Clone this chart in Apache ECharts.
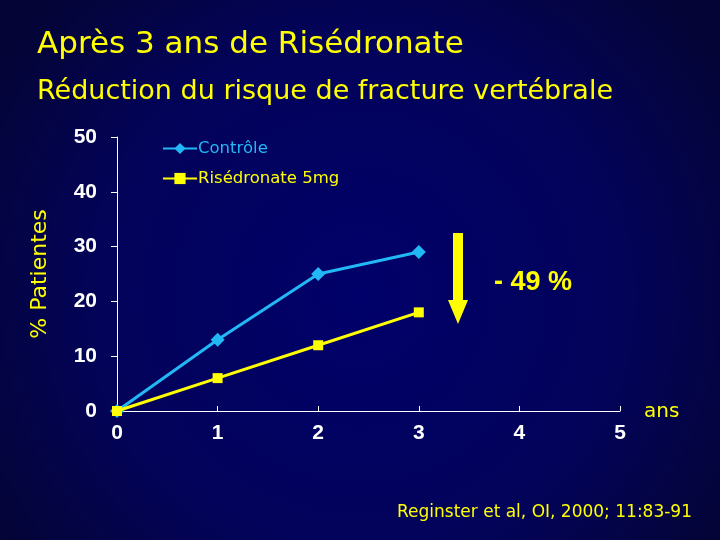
<!DOCTYPE html>
<html><head><meta charset="utf-8">
<script src="https://cdn.jsdelivr.net/npm/echarts@6/dist/echarts.min.js"></script>
<style>html,body{margin:0;padding:0;background:#000060}#c{width:720px;height:540px}</style>
</head><body><div id="c"></div>
<script>
const years = [0, 1, 2, 3];
const controle = [0, 13, 25, 29];
const risedronate = [0, 6, 12, 18];
const xTicks = [0, 1, 2, 3, 4, 5];
const yTicks = [0, 10, 20, 30, 40, 50];

const chart = echarts.init(document.getElementById('c'));
const font = '"DejaVu Sans", Verdana, sans-serif';
const numFont = '"Liberation Sans", Arial, sans-serif';
chart.setOption({
  backgroundColor: {
    type: 'radial', x: 0.5, y: 0.55, r: 0.8,
    colorStops: [{offset: 0, color: '#00006a'}, {offset: 0.6, color: '#03035a'}, {offset: 1, color: '#040436'}]
  },
  animation: false,
  grid: {left: 117, right: 100, top: 137, bottom: 129},
  title: [
    {text: 'Après 3 ans de Risédronate', left: 32, top: 24, textStyle: {color: '#ffff00', fontSize: 31, fontWeight: 'normal', fontFamily: font}},
    {text: 'Réduction du risque de fracture vertébrale', left: 32, top: 73, textStyle: {color: '#ffff00', fontSize: 27, fontWeight: 'normal', fontFamily: font}}
  ],
  legend: {
    left: 157, top: 135, orient: 'vertical', itemGap: 13, itemWidth: 34, itemHeight: 14,
    data: [
      {name: 'Contrôle', textStyle: {color: '#22b8f5'}},
      {name: 'Risédronate 5mg', textStyle: {color: '#ffff00'}}
    ],
    textStyle: {fontSize: 16.5, fontFamily: font, padding: [0, 0, 0, -4]}
  },
  xAxis: {
    type: 'value', min: 0, max: 5, interval: 1,
    axisLine: {show: true, lineStyle: {color: '#ffffff', width: 1}},
    axisTick: {show: true, inside: true, length: 5, lineStyle: {color: '#ffffff'}},
    splitLine: {show: false},
    axisLabel: {color: '#ffffff', fontSize: 21, fontWeight: 'bold', fontFamily: numFont, margin: 12,
      formatter: v => xTicks.includes(v) ? String(v) : ''}
  },
  yAxis: {
    type: 'value', min: 0, max: 50, interval: 10,
    name: '% Patientes', nameLocation: 'middle', nameGap: 66, nameRotate: 90,
    nameTextStyle: {color: '#ffff00', fontSize: 22, fontFamily: font},
    axisLine: {show: true, lineStyle: {color: '#ffffff', width: 1}},
    axisTick: {show: true, inside: false, length: 6, lineStyle: {color: '#ffffff'}},
    splitLine: {show: false},
    axisLabel: {color: '#ffffff', fontSize: 21, fontWeight: 'bold', fontFamily: numFont, margin: 20,
      formatter: v => yTicks.includes(v) ? String(v) : ''}
  },
  series: [
    {name: 'Contrôle', type: 'line', data: years.map((x, i) => [x, controle[i]]),
      symbol: 'diamond', symbolSize: 14, color: '#22b8f5', lineStyle: {width: 3, color: '#22b8f5'}, itemStyle: {color: '#22b8f5'}, z: 2},
    {name: 'Risédronate 5mg', type: 'line', data: years.map((x, i) => [x, risedronate[i]]),
      symbol: 'rect', symbolSize: 10, color: '#ffff00', lineStyle: {width: 3, color: '#ffff00'}, itemStyle: {color: '#ffff00'}, z: 3}
  ],
  graphic: [
    {type: 'polygon', shape: {points: [[453, 233], [463, 233], [463, 300], [468, 300], [458, 324], [448, 300], [453, 300]]}, style: {fill: '#ffff00'}},
    {type: 'text', left: 494, top: 269, style: {text: '- 49 %', fill: '#ffff00', font: 'bold 27px "Liberation Sans", Arial, sans-serif'}},
    {type: 'text', left: 644, top: 402, style: {text: 'ans', fill: '#ffff00', font: '20px ' + font}},
    {type: 'text', left: 397, top: 504, style: {text: 'Reginster et al, OI, 2000; 11:83-91', fill: '#ffff00', font: '17px ' + font}}
  ]
});
</script></body></html>
